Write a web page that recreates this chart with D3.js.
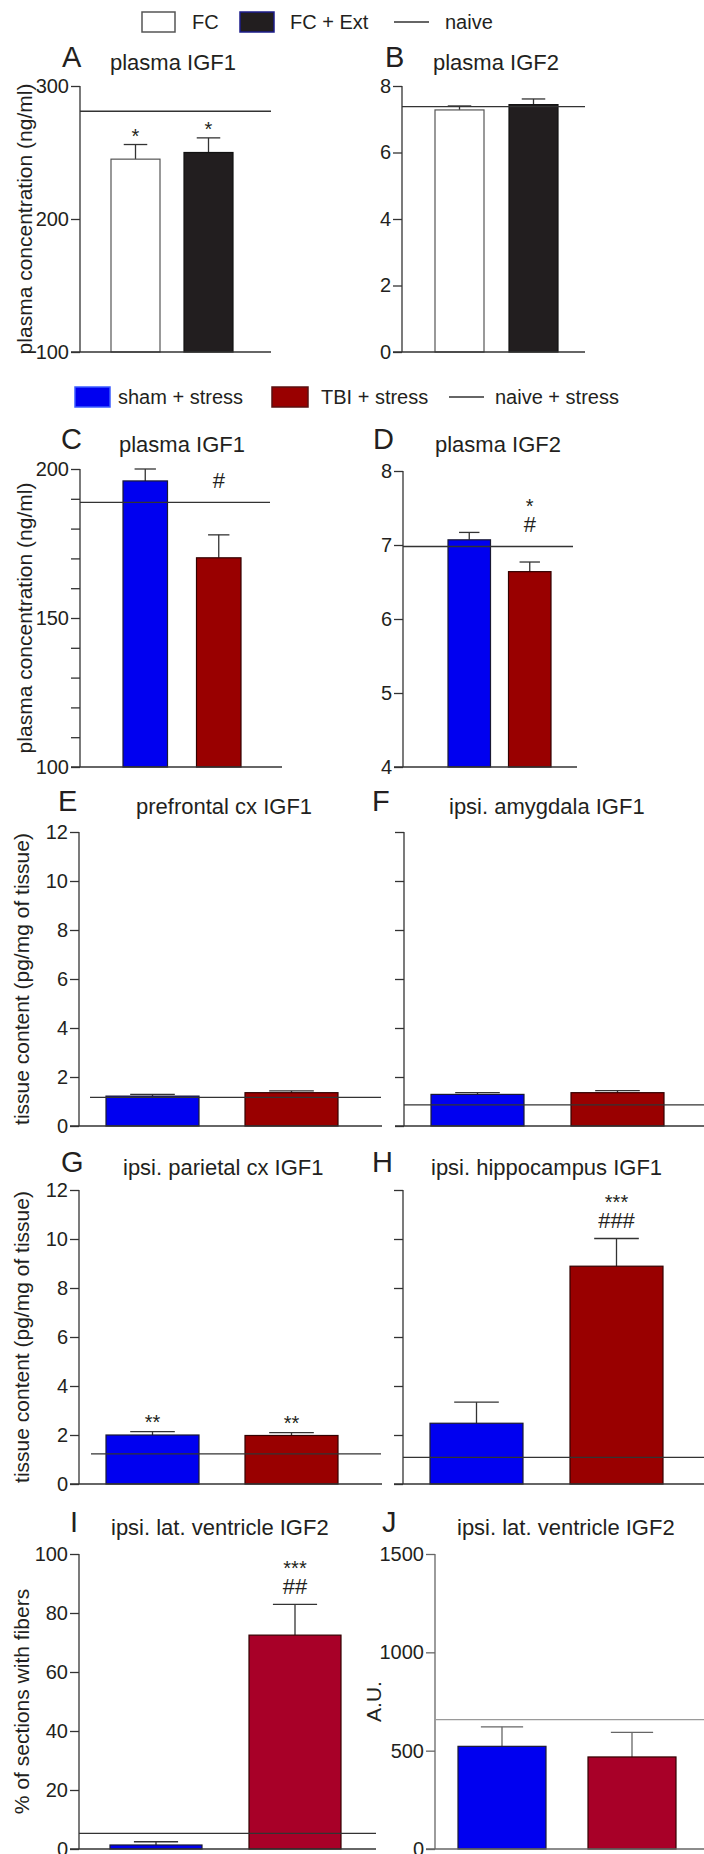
<!DOCTYPE html>
<html>
<head>
<meta charset="utf-8">
<script src="https://cdn.jsdelivr.net/npm/d3@7"></script>
<style>
  html, body { margin: 0; padding: 0; background: #fff; }
  svg { display: block; }
  text { font-family: "Liberation Sans", Arial, sans-serif; fill: #231f20; }
</style>
</head>
<body>
<script>
// ---------------- DATA ----------------
const panelIds = ["A","B","C","D","E","F","G","H","I","J"];
const panelTitles = ["plasma IGF1","plasma IGF2","plasma IGF1","plasma IGF2",
  "prefrontal cx IGF1","ipsi. amygdala IGF1","ipsi. parietal cx IGF1","ipsi. hippocampus IGF1",
  "ipsi. lat. ventricle IGF2","ipsi. lat. ventricle IGF2"];
const groupsExp1 = ["FC","FC + Ext"];
const groupsExp2 = ["sham + stress","TBI + stress"];
const legendLineExp1 = "naive";
const legendLineExp2 = "naive + stress";
const barMeans = [[245,250],[7.28,7.44],[196,170.2],[7.07,6.64],[1.22,1.36],[1.29,1.36],
  [2.0,1.98],[2.48,8.89],[1.36,72.5],[522,468]];
const barSems = [[11,11],[0.12,0.17],[4,7.7],[0.10,0.13],[0.07,0.07],[0.07,0.08],
  [0.14,0.12],[0.86,1.13],[1.1,10.4],[99,125]];
const naiveLevels = [281,7.38,188.8,6.98,1.17,0.86,1.23,1.09,5.3,658];
const yDomains = [[100,300],[0,8],[100,200],[4,8],[0,12],[0,12],[0,12],[0,12],[0,100],[0,1500]];
const yTickValues = [[100,200,300],[0,2,4,6,8],[100,110,120,130,140,150,160,170,180,190,200],[4,5,6,7,8],
  [0,2,4,6,8,10,12],[0,2,4,6,8,10,12],[0,2,4,6,8,10,12],[0,2,4,6,8,10,12],[0,20,40,60,80,100],[0,500,1000,1500]];
const yTickLabels = [[100,200,300],[0,2,4,6,8],[100,150,200],[4,5,6,7,8],
  [0,2,4,6,8,10,12],[],[0,2,4,6,8,10,12],[],[0,20,40,60,80,100],[0,500,1000,1500]];
const yAxisTitles = ["plasma concentration (ng/ml)","","plasma concentration (ng/ml)","",
  "tissue content (pg/mg of tissue)","","tissue content (pg/mg of tissue)","",
  "% of sections with fibers","A.U."];
const sigMarks = [[["*"],["*"]],[[],[]],[[],["#"]],[[],["*","#"]],[[],[]],[[],[]],
  [["**"],["**"]],[[],["***","###"]],[[],["***","##"]],[[],[]]];

// ---------------- LAYOUT / STYLE ----------------
const W = 704, H = 1854;
const rows = [[86,352],[469,767],[832,1126],[1190,1484],[1554,1849]];
const layout = [
  {row:0, ax:80,  xe:271, bl:111, br:233, bw:49, n0:80,  n1:271, lx:62,  tx:110, by:70,  ylx:25, gap:5,  yTop:86},
  {row:0, ax:402, xe:585, bl:435, br:558, bw:49, n0:402, n1:585, lx:385, tx:433, by:70,  ylx:0,  gap:5,  yTop:86},
  {row:1, ax:80,  xe:282, bl:123, br:241, bw:44.5, n0:80, n1:270, lx:61, tx:119, by:452, ylx:25, gap:47, yTop:469},
  {row:1, ax:403, xe:577, bl:448, br:551, bw:42.5, n0:403, n1:573, lx:373, tx:435, by:452, ylx:0, gap:30, yTop:471},
  {row:2, ax:79,  xe:382, bl:106, br:338, bw:93, n0:90,  n1:381, lx:58,  tx:136, by:814, ylx:22, gap:6},
  {row:2, ax:404, xe:704, bl:431, br:664, bw:93, n0:404, n1:704, lx:372, tx:449, by:814, ylx:0,  gap:6},
  {row:3, ax:79,  xe:382, bl:106, br:338, bw:93, n0:91,  n1:381, lx:61,  tx:123, by:1175, ylx:22, gap:6},
  {row:3, ax:403, xe:704, bl:430, br:663, bw:93, n0:403, n1:704, lx:372, tx:431, by:1175, ylx:0, gap:11},
  {row:4, ax:79,  xe:376, bl:110, br:341, bw:92, n0:79,  n1:376, lx:70,  tx:111, by:1535, ylx:22, gap:10},
  {row:4, ax:435, xe:704, bl:458, br:676, bw:88, n0:435, n1:704, lx:382, tx:457, by:1535, ylx:374, gap:10}
];
const fillsExp1 = ["#ffffff","#221e1f"];
const strokesExp1 = ["#555555","#111111"];
const fillsExp2 = ["#0000f0","#990000"];
const fillsExp2b = ["#0000f0","#a80028"];
const axisColor = "#333333";
const markLineStep = 20;

const svg = d3.select("body").append("svg").attr("width", W).attr("height", H);
svg.append("rect").attr("width", W).attr("height", H).attr("fill", "#fff");

// ---------------- LEGENDS ----------------
function legend(y, items, lineLabel, lineX, lineTextX) {
  const g = svg.append("g");
  items.forEach(it => {
    g.append("rect").attr("x", it.x).attr("y", y - 10).attr("width", it.w).attr("height", 20)
      .attr("fill", it.fill).attr("stroke", it.stroke).attr("stroke-width", 1.5);
    g.append("text").attr("x", it.tx).attr("y", y).attr("dy", "0.35em")
      .attr("font-size", 20).text(it.label);
  });
  g.append("line").attr("x1", lineX[0]).attr("x2", lineX[1]).attr("y1", y).attr("y2", y)
    .attr("stroke", axisColor).attr("stroke-width", 1.3);
  g.append("text").attr("x", lineTextX).attr("y", y).attr("dy", "0.35em")
    .attr("font-size", 20).text(lineLabel);
}
legend(22, [
  {x:142, w:33, fill:fillsExp1[0], stroke:"#555", tx:192, label:groupsExp1[0]},
  {x:240, w:34, fill:fillsExp1[1], stroke:"#1c1c8a", tx:290, label:groupsExp1[1]}
], legendLineExp1, [394,429], 445);
legend(397, [
  {x:75, w:35, fill:fillsExp2[0], stroke:"#3b5bff", tx:118, label:groupsExp2[0]},
  {x:272, w:36, fill:fillsExp2[1], stroke:"#5a1010", tx:321, label:groupsExp2[1]}
], legendLineExp2, [449,484], 495);

// ---------------- PANELS ----------------
panelIds.forEach((pid, i) => {
  const L = layout[i];
  const yBottom = rows[L.row][1];
  const yTop = L.yTop !== undefined ? L.yTop : rows[L.row][0];
  const isJ = pid === "J";
  const col = isJ ? "#666" : axisColor;
  const groups = i < 2 ? groupsExp1 : groupsExp2;
  const fills = i < 2 ? fillsExp1 : (i >= 8 ? fillsExp2b : fillsExp2);
  const strokes = i < 2 ? strokesExp1 : ["#1a1a33", "#330000"];

  const y = d3.scaleLinear().domain(yDomains[i]).range([yBottom, yTop]);
  const span = L.br - L.bl;
  const x = d3.scaleBand().domain(groups).range([L.bl, L.br])
    .paddingInner((span - 2 * L.bw) / (span - L.bw)).paddingOuter(0);

  const g = svg.append("g");

  g.append("text").attr("x", L.lx).attr("y", L.by - 3).attr("font-size", 29).text(pid);
  g.append("text").attr("x", L.tx).attr("y", L.by).attr("font-size", 22).text(panelTitles[i]);

  const labeled = new Set(yTickLabels[i]);
  const yAxis = d3.axisLeft(y).tickValues(yTickValues[i]).tickSize(9).tickPadding(2)
    .tickFormat(d => labeled.has(d) ? d3.format("d")(d) : "");
  const ga = g.append("g").attr("transform", `translate(${L.ax},0)`).call(yAxis);
  ga.select(".domain").attr("d", `M0,${yTop}V${yBottom}`).attr("stroke", col).attr("stroke-width", 1.3);
  ga.selectAll(".tick line").attr("stroke", col).attr("stroke-width", 1.3);
  ga.selectAll(".tick text").attr("font-size", 20).attr("fill", "#231f20")
    .attr("font-family", "Liberation Sans, Arial, sans-serif");

  groups.forEach((grp, k) => {
    const v = barMeans[i][k], e = barSems[i][k];
    const bx = x(grp), bw = x.bandwidth(), cx = bx + bw / 2;
    g.append("line").attr("x1", cx).attr("x2", cx).attr("y1", y(v)).attr("y2", y(v + e))
      .attr("stroke", col).attr("stroke-width", 1.3);
    g.append("line").attr("x1", cx - bw * 0.24).attr("x2", cx + bw * 0.24)
      .attr("y1", y(v + e)).attr("y2", y(v + e)).attr("stroke", col).attr("stroke-width", 1.3);
    g.append("rect").attr("x", bx).attr("y", y(v)).attr("width", bw)
      .attr("height", y(yDomains[i][0]) - y(v))
      .attr("fill", fills[k]).attr("stroke", strokes[k]).attr("stroke-width", 1.2);
    const marks = sigMarks[i][k];
    if (marks.length) {
      const n = marks.length;
      const bottomBase = y(v + e) - L.gap;
      const t = g.append("text").attr("text-anchor", "middle");
      marks.forEach((m, j) => {
        const isStar = m[0] === "*";
        const idxFromBottom = n - 1 - j;
        const base = bottomBase - idxFromBottom * markLineStep + (isStar ? (idxFromBottom > 0 ? 1 : 3) : 0);
        t.append("tspan").attr("x", cx).attr("y", base)
          .attr("font-size", isStar ? 20 : 22).text(m);
      });
    }
  });

  g.append("line").attr("x1", L.n0).attr("x2", L.n1)
    .attr("y1", y(naiveLevels[i])).attr("y2", y(naiveLevels[i]))
    .attr("stroke", isJ ? "#9a9a9a" : axisColor).attr("stroke-width", 1.3);

  g.append("line").attr("x1", L.ax - 9).attr("x2", L.xe).attr("y1", yBottom).attr("y2", yBottom)
    .attr("stroke", col).attr("stroke-width", 1.3);

  if (yAxisTitles[i]) {
    const cy = (yTop + yBottom) / 2;
    g.append("text").attr("transform", `translate(${L.ylx},${cy}) rotate(-90)`)
      .attr("text-anchor", "middle").attr("dy", "0.35em").attr("font-size", 21)
      .text(yAxisTitles[i]);
  }
});
</script>
</body>
</html>
